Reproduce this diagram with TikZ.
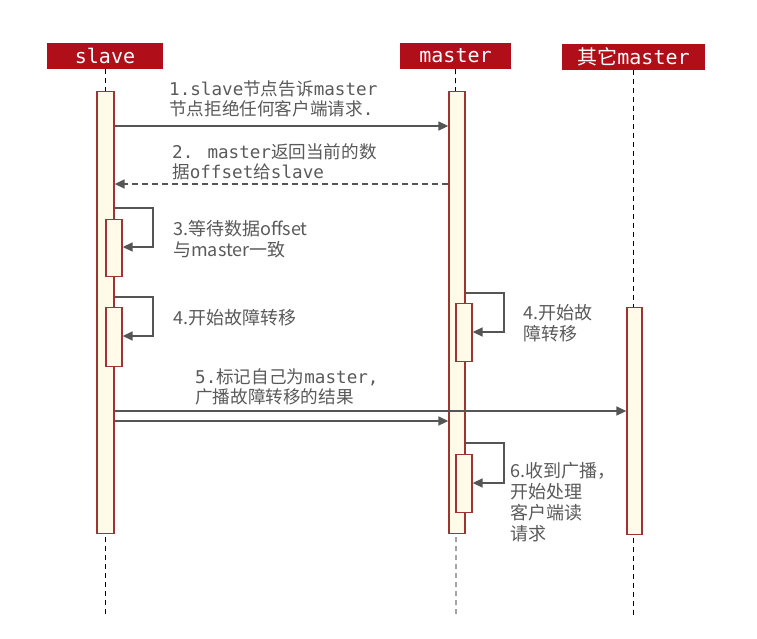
\documentclass[tikz,border=0pt]{standalone}
\usepackage{fontspec}
\setmainfont{Noto Sans CJK SC}
\newfontfamily\monof{DejaVu Sans Mono}
\newfontfamily\zhf{Noto Sans CJK SC}
\newcommand\zh[1]{{\zhf #1}}
\usetikzlibrary{arrows.meta}
\definecolor{hdr}{RGB}{176,14,24}
\definecolor{barred}{RGB}{160,50,50}
\definecolor{barfill}{RGB}{255,251,232}
\definecolor{arrowgray}{RGB}{85,85,85}
\definecolor{txtgray}{RGB}{90,90,90}
\begin{document}
\begin{tikzpicture}[x=1pt,y=-1pt,
  head/.style={fill=hdr, text=white, font=\monof\fontsize{20}{22}\selectfont, minimum height=26pt, inner sep=0pt},
  life/.style={draw=black, dash pattern=on 5pt off 4pt, line width=0.8pt},
  bar/.style={draw=barred, fill=barfill, line width=1.3pt, minimum width=16pt, inner sep=0pt, anchor=north},
  msg/.style={draw=arrowgray, line width=1.5pt, -{Triangle[length=10pt,width=9pt]}},
  rmsg/.style={msg, dash pattern=on 6pt off 4pt},
  mlbl/.style={text=txtgray, anchor=north west, inner sep=0pt, align=left, font=\monof\fontsize{17.6}{20}\selectfont},
  plbl/.style={text=txtgray, anchor=north west, inner sep=0pt, align=left, font=\zhf\fontsize{18}{21}\selectfont}]
\useasboundingbox (0,0) rectangle (757,638);
\fill[white] (0,0) rectangle (757,638);
% headers
\node[head, minimum width=116pt] (hs) at (105,56) {slave};
\node[head, minimum width=111pt] (hm) at (455.5,56) {master};
\node[head, minimum width=143pt] (ho) at (633.5,56.5) {\zh{其它}master};
% lifelines
\coordinate (es) at (105,615);
\coordinate (em) at (456,615);
\coordinate (eo) at (633,615);
\draw[life] (hs.south) -- (es);
\draw[life] (hm.south) -- (em);
\draw[life] (ho.south -| eo) -- (eo);
% activation bars
\node[bar, minimum width=17pt, minimum height=442pt] (sb) at (105.5,91) {};
\node[bar, minimum width=16pt, minimum height=442pt] (mb) at (457,91) {};
\node[bar, minimum width=15pt, minimum height=227pt] (ob) at (634.5,307) {};
\node[bar, minimum height=57pt] (s3) at (114,219) {};
\node[bar, minimum height=59pt] (s4) at (114,307) {};
\node[bar, minimum height=58pt] (m4) at (464,303) {};
\node[bar, minimum height=58pt] (m6) at (464,454) {};
% message 1
\draw[msg] (sb.east |- 0,126) -- (mb.west |- 0,126);
\node[mlbl] (t1) at (169,81) {1.slave\zh{节点告诉}master\\\zh{节点拒绝任何客户端请求}.};
% message 2
\draw[rmsg] (mb.west |- 0,184) -- (sb.east |- 0,184);
\node[mlbl] (t2) at (172,143) {2. master\zh{返回当前的数}\\\zh{据}offset\zh{给}slave};
% message 3 self
\draw[msg] (sb.east |- 0,208) -- (153,208) -- (153,247) -- (s3.east |- 0,247);
\node[plbl] (t3) at (173,220) {3.等待数据offset\\与master一致};
% message 4 self (slave)
\draw[msg] (sb.east |- 0,297) -- (153,297) -- (153,336) -- (s4.east |- 0,336);
\node[plbl] (t4) at (173,309) {4.开始故障转移};
% message 4 self (master)
\draw[msg] (mb.east |- 0,293) -- (504,293) -- (504,332) -- (m4.east |- 0,332);
\node[plbl] (t4m) at (523,304) {4.开始故\\障转移};
% message 5
\draw[msg] (sb.east |- 0,411) -- (ob.west |- 0,411);
\draw[msg] (sb.east |- 0,421) -- (mb.west |- 0,421);
\node[mlbl] (t5) at (195,368) {5.\zh{标记自己为}master,\\\zh{广播故障转移的结果}};
% message 6 self
\draw[msg] (mb.east |- 0,443) -- (504,443) -- (504,483) -- (m6.east |- 0,483);
\node[plbl] (t6) at (510,462) {6.收到广播，\\开始处理\\客户端读\\请求};
\end{tikzpicture}
\end{document}
